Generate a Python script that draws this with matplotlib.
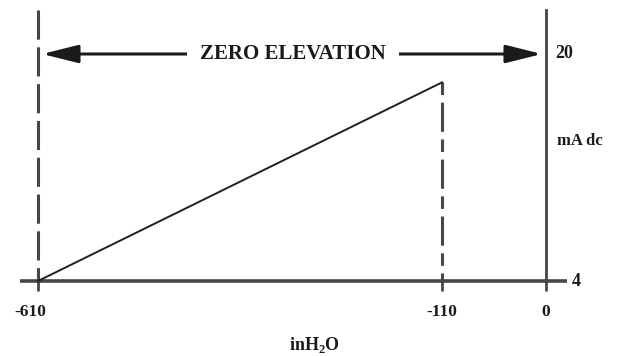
import numpy as np
import matplotlib
matplotlib.use("Agg")
import matplotlib.pyplot as plt
import matplotlib.transforms as mtransforms

plt.rcParams['font.family'] = ['Liberation Serif', 'DejaVu Serif']
plt.rcParams['font.weight'] = 'bold'
plt.rcParams['mathtext.fontset'] = 'custom'
plt.rcParams['mathtext.rm'] = 'Liberation Serif:bold'
plt.rcParams['mathtext.bf'] = 'Liberation Serif:bold'
plt.rcParams['lines.scale_dashes'] = False

# ---- data ----
x_ticks = [-610, -110, 0]
x_tick_labels = ["-610", "-110", "0"]
y_ticks = [4, 20]
y_tick_labels = ["4", "20"]
line_x = [-610, -110]
line_y = [4, 18]
range_label = "ZERO ELEVATION"
x_label = r"inH$_{\mathbf{2}}$O"
y_label = "mA dc"

# schematic (not-to-scale) x axis: piecewise linear positions
break_pts = np.array([-610.0, -110.0, 0.0])
break_pos = np.array([0.0, 404.0, 508.0])

def fwd(x):
    x = np.asarray(x, dtype=float)
    s1 = (break_pos[1] - break_pos[0]) / (break_pts[1] - break_pts[0])
    s2 = (break_pos[2] - break_pos[1]) / (break_pts[2] - break_pts[1])
    return np.where(x <= break_pts[1], break_pos[0] + (x - break_pts[0]) * s1,
                    break_pos[1] + (x - break_pts[1]) * s2)

def inv(p):
    p = np.asarray(p, dtype=float)
    s1 = (break_pos[1] - break_pos[0]) / (break_pts[1] - break_pts[0])
    s2 = (break_pos[2] - break_pos[1]) / (break_pts[2] - break_pts[1])
    return np.where(p <= break_pos[1], break_pts[0] + (p - break_pos[0]) / s1,
                    break_pts[1] + (p - break_pos[1]) / s2)

W, H = 620, 356
fig = plt.figure(figsize=(W / 100, H / 100), dpi=100)
ax = fig.add_axes([38 / W, (H - 281) / H, 508 / W, 227 / H])
ax.set_xscale('function', functions=(fwd, inv))
ax.set_xlim(x_ticks[0], x_ticks[-1])
ax.set_ylim(y_ticks[0], y_ticks[-1])
ax.patch.set_visible(False)
for s in ax.spines.values():
    s.set_visible(False)

txtc = '#1a1a1a'
linec = '#464646'

# x ticks
ax.set_xticks(x_ticks)
ax.set_xticklabels(x_tick_labels, fontsize=12.5, fontweight='bold', color=txtc)
ax.tick_params(axis='x', direction='out', length=7, width=2.0, color=linec, pad=9.5)
ax.set_yticks([])
# the first label sits slightly left of its tick in the reference
lbl0 = ax.get_xticklabels()[0]
lbl0.set_transform(lbl0.get_transform() +
                   mtransforms.ScaledTranslation(-8 / 100, 0, fig.dpi_scale_trans))

# horizontal base axis line (extends beyond the range)
blend = mtransforms.blended_transform_factory(ax.transAxes, ax.transData)
ax.plot([-18 / 508, 529 / 508], [y_ticks[0], y_ticks[0]], color=linec, lw=2.6,
        transform=blend, clip_on=False, solid_capstyle='butt')

# left dashed line at -610
top_val = 23.1
ax.plot([x_ticks[0], x_ticks[0]], [top_val, y_ticks[0]], color=linec, lw=2.2,
        linestyle=(0, (21, 5.5)), clip_on=False)
# right solid line at 0
ax.plot([x_ticks[-1], x_ticks[-1]], [top_val, y_ticks[0]], color=linec, lw=2.0,
        clip_on=False)
# dashed line at -110 up to the end of the ramp
ax.plot([line_x[1], line_x[1]], [line_y[1], y_ticks[0]], color=linec, lw=2.2,
        linestyle=(0, (9, 5.5, 21, 5.5)), clip_on=False)

# ramp
ax.plot(line_x, line_y, color='#202020', lw=1.4, clip_on=False)

# double arrow with label
ax.annotate("", xy=(x_ticks[0], y_ticks[-1]), xytext=(x_ticks[-1], y_ticks[-1]),
            arrowprops=dict(arrowstyle="<|-|>,head_length=2.2,head_width=0.55",
                            mutation_scale=10, color='#1a1a1a', lw=2.2,
                            shrinkA=3, shrinkB=3), annotation_clip=False)
ax.text(0.502, y_ticks[-1], range_label, transform=blend, ha='center', va='center',
        fontsize=15, fontweight='bold', color=txtc,
        bbox=dict(boxstyle='square,pad=0.65', fc='white', ec='none'))

# y tick labels (right side)
ax.annotate(y_tick_labels[1], xy=(x_ticks[-1], y_ticks[1]), xytext=(6.5, 0),
            textcoords='offset points', ha='left', va='center', fontsize=13,
            fontweight='bold', color=txtc, annotation_clip=False)
ax.annotate(y_tick_labels[0], xy=(x_ticks[-1], y_ticks[0]), xytext=(18.5, 0),
            textcoords='offset points', ha='left', va='center', fontsize=13,
            fontweight='bold', color=txtc, annotation_clip=False)

# axis labels
ax.text(519 / 508, 140 / 227, y_label, transform=ax.transAxes, ha='left', va='center',
        fontsize=12, fontweight='bold', color=txtc)
ax.set_xlabel(x_label, fontsize=13, fontweight='bold', color=txtc)
ax.xaxis.label.set_va('center')
ax.xaxis.set_label_coords(277 / 508, -64 / 227)

fig.savefig("out.png", dpi=100, facecolor='white')
